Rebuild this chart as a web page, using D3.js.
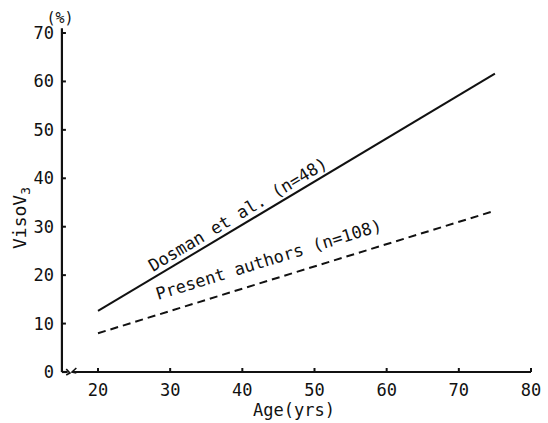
<!DOCTYPE html>
<html>
<head>
<meta charset="utf-8">
<script src="https://cdn.jsdelivr.net/npm/d3@7"></script>
<style>
  body { margin: 0; background: #fff; }
  text { font-family: "DejaVu Sans Mono", "Liberation Mono", monospace; fill: #111; }
</style>
</head>
<body>
<div id="chart"></div>
<script>
const xTicks = [20, 30, 40, 50, 60, 70, 80];
const yTicks = [0, 10, 20, 30, 40, 50, 60, 70];
const dosman = [{ age: 20, v: 12.6 }, { age: 75, v: 61.6 }];
const present = [{ age: 20, v: 8.0 }, { age: 75, v: 33.3 }];

const svg = d3.select("#chart").append("svg")
  .attr("width", 548)
  .attr("height", 423);

const x = d3.scaleLinear().domain([20, 80]).range([98, 531]);
const y = d3.scaleLinear().domain([0, 70]).range([372, 33]);

const ink = "#111";

// y axis
svg.append("line")
  .attr("x1", x(15)).attr("x2", x(15))
  .attr("y1", y(0)).attr("y2", y(71))
  .attr("stroke", ink).attr("stroke-width", 2.2);

svg.selectAll(".ytick").data(yTicks).enter().append("line")
  .attr("x1", x(15)).attr("x2", x(15) + 4)
  .attr("y1", d => y(d)).attr("y2", d => y(d))
  .attr("stroke", ink).attr("stroke-width", 2);

svg.selectAll(".ylab").data(yTicks).enter().append("text")
  .attr("x", 54).attr("y", d => y(d) + 6)
  .attr("text-anchor", "end")
  .style("font-size", "17px")
  .text(d => d);

svg.append("text")
  .attr("x", 60).attr("y", 23)
  .attr("text-anchor", "middle")
  .style("font-size", "15px")
  .text("(%)");

// y axis title
const yt = svg.append("text")
  .attr("transform", "translate(26,218) rotate(-90)")
  .attr("text-anchor", "middle")
  .style("font-size", "18px");
yt.append("tspan").text("VisoV");
yt.append("tspan").attr("dy", 4).style("font-size", "13px").text("3");

// x axis with break near origin
svg.append("line")
  .attr("x1", x(15)).attr("x2", x(15.8))
  .attr("y1", y(0)).attr("y2", y(0))
  .attr("stroke", ink).attr("stroke-width", 2.2);
svg.append("path")
  .attr("d", `M${x(15.6)},${y(0) - 3} L${x(16.1)},${y(0) + 1} L${x(15.6)},${y(0) + 3}`)
  .attr("fill", "none").attr("stroke", ink).attr("stroke-width", 1.6);
svg.append("path")
  .attr("d", `M${x(17.0)},${y(0) - 4} L${x(16.4)},${y(0)} L${x(17.0)},${y(0) + 1}`)
  .attr("fill", "none").attr("stroke", ink).attr("stroke-width", 1.6);
svg.append("line")
  .attr("x1", x(16.5)).attr("x2", x(80))
  .attr("y1", y(0)).attr("y2", y(0))
  .attr("stroke", ink).attr("stroke-width", 2);

svg.selectAll(".xtick").data(xTicks).enter().append("line")
  .attr("x1", d => x(d)).attr("x2", d => x(d))
  .attr("y1", y(0)).attr("y2", y(0) - 4)
  .attr("stroke", ink).attr("stroke-width", 2);

svg.selectAll(".xlab").data(xTicks).enter().append("text")
  .attr("x", d => x(d)).attr("y", 396)
  .attr("text-anchor", "middle")
  .style("font-size", "17px")
  .text(d => d);

svg.append("text")
  .attr("x", 294).attr("y", 416)
  .attr("text-anchor", "middle")
  .style("font-size", "17px")
  .text("Age(yrs)");

// lines
const line = d3.line().x(d => x(d.age)).y(d => y(d.v));

svg.append("path").datum(dosman)
  .attr("d", line)
  .attr("fill", "none").attr("stroke", ink).attr("stroke-width", 2);

svg.append("path").datum(present)
  .attr("d", line)
  .attr("fill", "none").attr("stroke", ink).attr("stroke-width", 2)
  .attr("stroke-dasharray", "8,5");

// labels along lines
function angleOf(data) {
  const dx = x(data[1].age) - x(data[0].age);
  const dy = y(data[1].v) - y(data[0].v);
  return Math.atan2(dy, dx) * 180 / Math.PI;
}

svg.append("text")
  .attr("transform", `translate(153,272) rotate(${angleOf(dosman)})`)
  .style("font-size", "17px")
  .text("Dosman et al. (n=48)");

svg.append("text")
  .attr("transform", `translate(158,300) rotate(${angleOf(present)})`)
  .style("font-size", "17px")
  .text("Present authors (n=108)");
</script>
</body>
</html>
